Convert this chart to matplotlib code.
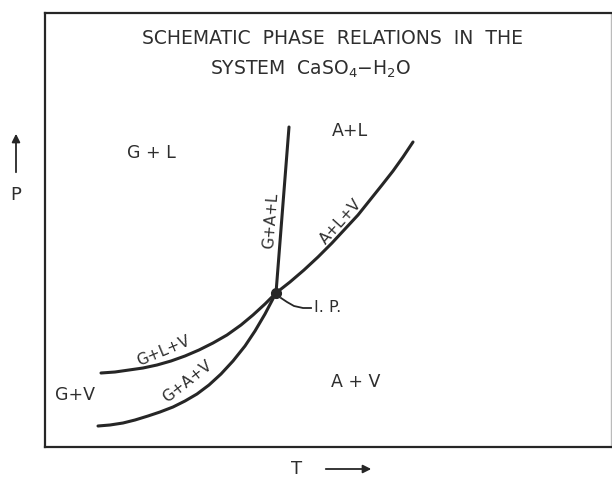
import matplotlib
matplotlib.use("Agg")
import matplotlib.pyplot as plt

# ---- data (schematic units: T to the right, P upward) ----
gav_T = [53, 65, 78, 90, 103, 115, 128, 140, 152, 164, 176, 188, 200, 210, 220, 231]
gav_P = [21, 22, 24, 27, 31, 35, 40, 46, 53, 62, 73, 86, 101, 116, 133, 154]

glv_T = [56, 70, 84, 98, 112, 126, 140, 154, 168, 182, 196, 208, 220, 231]
glv_P = [74, 75, 77, 79, 82, 86, 91, 97, 104, 112, 122, 132, 143, 154]

alv_T = [231, 245, 259, 273, 287, 300, 313, 325, 337, 348, 358, 368]
alv_P = [154, 165, 177, 190, 204, 218, 232, 247, 262, 276, 290, 305]

gal_T = [231, 244]
gal_P = [154, 320]

ip_T, ip_P = 231, 154
leader_T = [236, 242, 249, 258, 266]
leader_P = [149, 145, 141, 139, 139]

region_labels = ["G + L", "A+L", "G+V", "A + V"]
region_T = [106, 305, 30, 311]
region_P = [294, 316, 52, 65]

curve_labels = ["G+A+L", "A+L+V", "G+L+V", "G+A+V"]
curve_T = [226, 296, 118, 142]
curve_P = [226, 225, 96, 65]
curve_rot = [85.5, 48, 22.6, 38]

title1 = "SCHEMATIC  PHASE  RELATIONS  IN  THE"
title2 = r"SYSTEM  CaSO$_4$$-$H$_2$O"

ink = "#262626"
txt = "#2e2e2e"

fig = plt.figure(figsize=(6.12, 4.78), dpi=100)
ax = fig.add_axes([45/612, 31/478, 566/612, 434/478])
ax.set_xlim(0, 566)
ax.set_ylim(0, 434)
ax.set_xticks([])
ax.set_yticks([])
for s in ["left", "top", "bottom"]:
    ax.spines[s].set_linewidth(1.6)
    ax.spines[s].set_color(ink)
ax.spines["right"].set_linewidth(1.0)
ax.spines["right"].set_color("#bbbbbb")

lw = 2.2
for xs, ys in [(gav_T, gav_P), (glv_T, glv_P), (alv_T, alv_P), (gal_T, gal_P)]:
    ax.plot(xs, ys, color=ink, lw=lw, solid_capstyle="round",
            solid_joinstyle="round")
ax.plot([ip_T], [ip_P], "o", color=ink, ms=7)
ax.plot(leader_T, leader_P, color=ink, lw=1.3, solid_joinstyle="round")
ax.text(leader_T[-1] + 3, leader_P[-1], "I. P.", fontsize=11.5, color=txt,
        ha="left", va="center")

fs = 12.5
for lab, t, p in zip(region_labels, region_T, region_P):
    ax.text(t, p, lab, fontsize=fs, color=txt, ha="center", va="center")

for lab, t, p, r in zip(curve_labels, curve_T, curve_P, curve_rot):
    ax.text(t, p, lab, fontsize=11, color=txt, ha="center", va="center",
            rotation=r, rotation_mode="anchor")

ax.text(287, 409, title1, fontsize=13.5, color=txt, ha="center", va="center")
ax.text(266, 372, title2, fontsize=13.5, color=txt, ha="center", va="baseline")

# axis labels with arrows (outside the frame)
ax.text(-29, 252, "P", fontsize=13, color=txt, ha="center", va="center",
        clip_on=False)
ax.annotate("", xy=(-29, 316), xytext=(-29, 272), annotation_clip=False,
            arrowprops=dict(arrowstyle="-|>", color=ink, lw=1.3,
                            mutation_scale=12))
ax.text(252, -22, "T", fontsize=13, color=txt, ha="center", va="center",
        clip_on=False)
ax.annotate("", xy=(329, -22), xytext=(278, -22), annotation_clip=False,
            arrowprops=dict(arrowstyle="-|>", color=ink, lw=1.3,
                            mutation_scale=12))

fig.savefig("out.png", dpi=100)
